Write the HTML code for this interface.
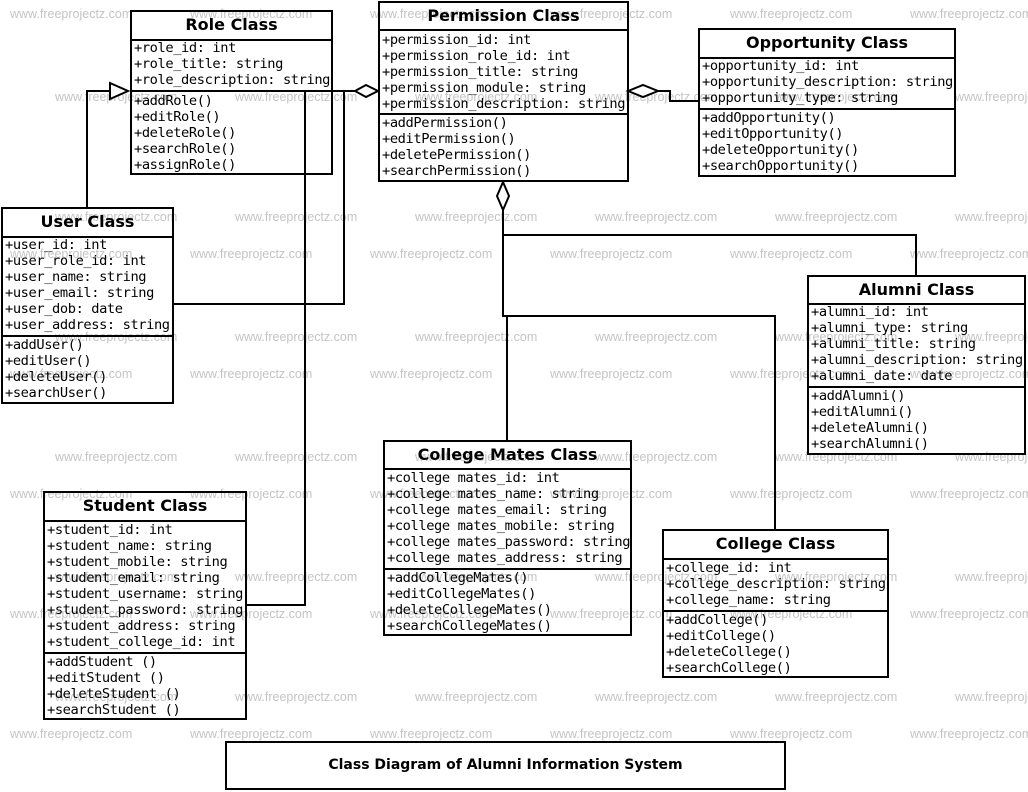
<!DOCTYPE html>
<html><head><meta charset="utf-8"><style>
body{margin:0;width:1028px;height:792px;background:#fff;position:relative;overflow:hidden}
.wm{position:absolute;font:12.5px "Liberation Sans",sans-serif;color:#c4c4c4;white-space:nowrap;line-height:13px}
.b{position:absolute;border:2px solid #000;background:transparent;box-sizing:border-box}
.h{position:absolute;left:0;right:0;top:0;font:bold 16px "DejaVu Sans",sans-serif;text-align:center;border-bottom:2px solid #000;box-sizing:border-box}
.s{position:absolute;left:0;right:0;font:13.7px/16px "DejaVu Sans Mono",monospace;letter-spacing:-0.4px;padding-left:2px;white-space:pre;box-sizing:border-box}
.a{border-bottom:2px solid #000}
svg{position:absolute;left:0;top:0}
</style></head><body>
<div id="w"></div>
<script>
var s='',ya=[15,255,375,495,615,735],yb=[98,218,338,458,578,698];
ya.forEach(function(y){for(var x=10;x<1028;x+=180)s+='<div class="wm" style="left:'+x+'px;top:'+(y-7)+'px">www.freeprojectz.com</div>';});
yb.forEach(function(y){for(var x=55;x<1028;x+=180)s+='<div class="wm" style="left:'+x+'px;top:'+(y-7)+'px">www.freeprojectz.com</div>';});
document.getElementById('w').innerHTML=s;
</script>
<svg width="1028" height="792" fill="none" stroke="#000" stroke-width="2">
<polyline points="87,207 87,91 110,91"/>
<polygon points="110,83 128,91 110,99" fill="#fff"/>
<polyline points="173,304 344,304 344,91"/>
<polyline points="246,605 305,605 305,91 355,91"/>
<polygon points="355,91 366,85 378,91 366,97" fill="#fff"/>
<polyline points="698,101 670,101 670,91 658,91"/>
<polygon points="628,91 643,85 658,91 643,97" fill="#fff"/>
<polygon points="503,182 509,196 503,210 497,196" fill="#fff"/>
<polyline points="503,210 503,316 507,316 507,440"/>
<polyline points="503,235 916,235 916,275"/>
<polyline points="503,316 775,316 775,529"/>
</svg>
<div class="b" style="left:130px;top:10px;width:203px;height:165px"><div class="h" style="height:29px;line-height:25px">Role Class</div><div class="s a" style="top:27px;height:53px;padding-top:1px">+role_id: int
+role_title: string
+role_description: string</div><div class="s" style="top:81px">+addRole()
+editRole()
+deleteRole()
+searchRole()
+assignRole()</div></div>
<div class="b" style="left:378px;top:1px;width:251px;height:181px"><div class="h" style="height:28px;line-height:25px">Permission Class</div><div class="s a" style="top:26px;height:86px;padding-top:3px">+permission_id: int
+permission_role_id: int
+permission_title: string
+permission_module: string
+permission_description: string</div><div class="s" style="top:112px">+addPermission()
+editPermission()
+deletePermission()
+searchPermission()</div></div>
<div class="b" style="left:698px;top:28px;width:258px;height:149px"><div class="h" style="height:29px;line-height:26px">Opportunity Class</div><div class="s a" style="top:27px;height:53px;padding-top:1px">+opportunity_id: int
+opportunity_description: string
+opportunity_type: string</div><div class="s" style="top:80px">+addOpportunity()
+editOpportunity()
+deleteOpportunity()
+searchOpportunity()</div></div>
<div class="b" style="left:1px;top:207px;width:173px;height:197px"><div class="h" style="height:29px;line-height:26px">User Class</div><div class="s a" style="top:27px;height:101px;padding-top:1px">+user_id: int
+user_role_id: int
+user_name: string
+user_email: string
+user_dob: date
+user_address: string</div><div class="s" style="top:128px">+addUser()
+editUser()
+deleteUser()
+searchUser()</div></div>
<div class="b" style="left:807px;top:275px;width:219px;height:180px"><div class="h" style="height:28px;line-height:25px">Alumni Class</div><div class="s a" style="top:26px;height:85px;padding-top:1px">+alumni_id: int
+alumni_type: string
+alumni_title: string
+alumni_description: string
+alumni_date: date</div><div class="s" style="top:111px">+addAlumni()
+editAlumni()
+deleteAlumni()
+searchAlumni()</div></div>
<div class="b" style="left:383px;top:440px;width:249px;height:196px"><div class="h" style="height:28px;line-height:25px">College Mates Class</div><div class="s a" style="top:26px;height:102px;padding-top:2px">+college mates_id: int
+college mates_name: string
+college mates_email: string
+college mates_mobile: string
+college mates_password: string
+college mates_address: string</div><div class="s" style="top:128px">+addCollegeMates()
+editCollegeMates()
+deleteCollegeMates()
+searchCollegeMates()</div></div>
<div class="b" style="left:43px;top:491px;width:204px;height:229px"><div class="h" style="height:29px;line-height:26px">Student Class</div><div class="s a" style="top:27px;height:134px;padding-top:2px">+student_id: int
+student_name: string
+student_mobile: string
+student_email: string
+student_username: string
+student_password: string
+student_address: string
+student_college_id: int</div><div class="s" style="top:161px">+addStudent ()
+editStudent ()
+deleteStudent ()
+searchStudent ()</div></div>
<div class="b" style="left:662px;top:529px;width:227px;height:149px"><div class="h" style="height:29px;line-height:26px">College Class</div><div class="s a" style="top:27px;height:54px;padding-top:2px">+college_id: int
+college_description: string
+college_name: string</div><div class="s" style="top:81px">+addCollege()
+editCollege()
+deleteCollege()
+searchCollege()</div></div>
<div class="b" style="left:225px;top:741px;width:561px;height:49px;font:bold 14px/45px 'DejaVu Sans',sans-serif;text-align:center">Class Diagram of Alumni Information System</div>
</body></html>
